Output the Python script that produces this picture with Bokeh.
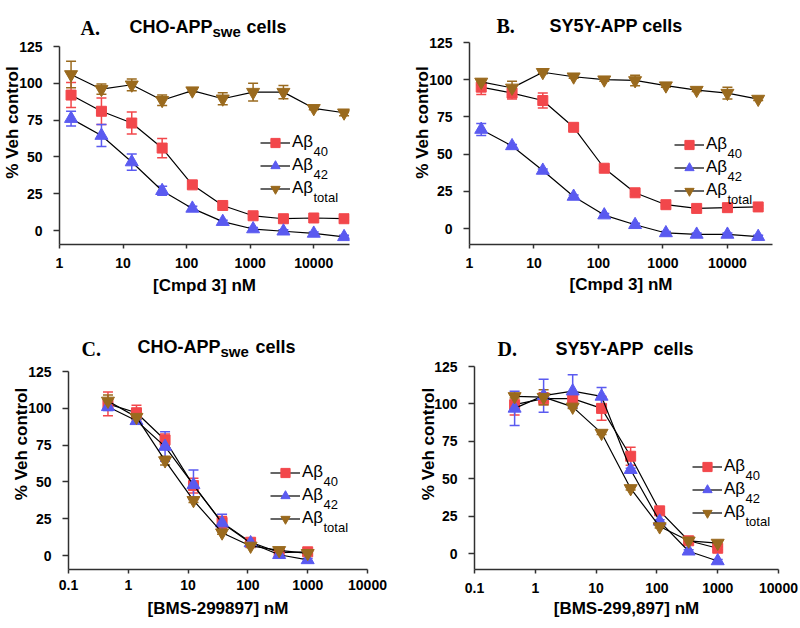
from bokeh.plotting import figure
from bokeh.layouts import column, row
from bokeh.models import (Range1d, FixedTicker, Whisker, TeeHead, ColumnDataSource,
                          Legend, LegendItem, Label)
from bokeh.embed import file_html
from bokeh.resources import INLINE

# ---------------- data ----------------
conc_cmpd3 = [1.52, 4.57, 13.7, 41.2, 123, 370, 1111, 3333, 10000, 30000]
conc_bms = [0.457, 1.37, 4.12, 12.3, 37.0, 111, 333, 1000]

# Panel A: CHO-APPswe cells, Cmpd 3
a_ab40 = [92, 81, 73, 56, 31, 17, 10, 8, 8.5, 8]
a_ab40_err = [8.5, 9, 7.5, 6.5, 2.5, 1.5, 1, 1, 1, 1]
a_ab42 = [76, 64.5, 46.5, 27, 15, 6, 1, -0.5, -2, -4.3]
a_ab42_err = [5, 7.5, 5.5, 3, 1.5, 1, 1, 1, 1, 1]
a_abtot = [106, 96, 99, 88.5, 95, 89.5, 94, 94, 83, 80]
a_abtot_err = [9, 3.5, 4, 3.5, 1, 4, 6, 4.5, 1, 2]

# Panel B: SY5Y-APP cells, Cmpd 3
b_ab40 = [95, 91, 86, 68, 40.5, 24, 16, 13.5, 14, 14.5]
b_ab40_err = [5, 4, 5, 2, 1, 1, 1, 1, 1, 1]
b_ab42 = [66.5, 55.5, 39, 21.5, 9, 2.5, -3, -4, -4, -5.5]
b_ab42_err = [4, 1, 1, 1, 1, 1, 1, 1, 1, 1]
b_abtot = [98.5, 94.5, 105, 102, 100, 99.5, 96, 93, 91, 87]
b_abtot_err = [2, 4.5, 1, 1, 1, 3.5, 1, 1, 4, 1]

# Panel C: CHO-APPswe cells, BMS-299897
c_ab40 = [103, 97, 78.5, 47.5, 22.5, 9, 2, 2.5]
c_ab40_err = [8, 5, 4, 5, 4, 1, 1, 1]
c_ab42 = [101, 91.5, 74, 48, 22, 8.5, 0.5, -3]
c_ab42_err = [2.5, 1, 10, 10, 6, 1, 1, 1]
c_abtot = [105, 94, 64.5, 37.5, 15.5, 6.5, 3.5, 1.5]
c_abtot_err = [4, 1.5, 3, 1.5, 1, 1, 1, 1]

# Panel D: SY5Y-APP cells, BMS-299,897
d_ab40 = [99.5, 103.5, 103.5, 97, 65, 28.5, 8.5, 3.5]
d_ab40_err = [7, 4, 3, 8, 6, 1, 1, 1]
d_ab42 = [97, 105.5, 108.5, 105, 56, 21.5, 1.5, -5]
d_ab42_err = [11.5, 11, 11, 6, 1, 1, 1, 1]
d_abtot = [105, 104.5, 98, 80.5, 43.5, 18, 8.5, 7]
d_abtot_err = [1, 5, 1, 1, 1, 1, 1, 1]

y_ticks = [0, 25, 50, 75, 100, 125]
y_tick_labels = ["0", "25", "50", "75", "100", "125"]
x_ticks_cmpd3 = [1, 10, 100, 1000, 10000]
x_tick_labels_cmpd3 = ["1", "10", "100", "1000", "10000"]
x_ticks_bms = [0.1, 1, 10, 100, 1000, 10000]
x_tick_labels_bms = ["0.1", "1", "10", "100", "1000", "10000"]
legend_subscripts = ["40", "42", "total"]
Y_TOP = 125

# ---------------- style ----------------
SANS = "Liberation Sans"
SERIF = "Liberation Serif"
RED = "#F2474B"
BLUE = "#5A5AF0"
BROWN = "#9A6A1E"
AXIS = "#303030"
COLORS = [RED, BLUE, BROWN]
MARKERS = ["square", "triangle", "inverted_triangle"]
SIZES = [10, 13, 13]

# page layout: canvas (x, y, w, h), frame (left, top, right, bottom),
# pix = page rows of y=0 and y=125
panels = [
    dict(canvas=(0, 0, 400, 318), frame=(58, 0, 349, 244), pix=(230, 46), xr=(1, 36500),
         x=conc_cmpd3, xt=x_ticks_cmpd3, xtl=x_tick_labels_cmpd3, xlabel="[Cmpd 3] nM",
         ys=[(a_ab40, a_ab40_err), (a_ab42, a_ab42_err), (a_abtot, a_abtot_err)],
         title=[("A.", SERIF, 20, 79, 27), ("CHO-APP", SANS, 18, 128, 26),
                ("swe", SANS, 15, 211, 31), ("cells", SANS, 18, 245, 26)],
         leg=(259, 142), ylab_s=-6, xtick_s=9, xlab_s=5),
    dict(canvas=(400, 0, 400, 318), frame=(469, 0, 772, 244), pix=(228, 42), xr=(1, 50000),
         x=conc_cmpd3, xt=x_ticks_cmpd3, xtl=x_tick_labels_cmpd3, xlabel="[Cmpd 3] nM",
         ys=[(b_ab40, b_ab40_err), (b_ab42, b_ab42_err), (b_abtot, b_abtot_err)],
         title=[("B.", SERIF, 20, 496, 25), ("SY5Y-APP cells", SANS, 18, 549, 25)],
         leg=(674, 144), ylab_s=-6, xtick_s=9, xlab_s=4),
    dict(canvas=(0, 318, 400, 310), frame=(68, 318, 367, 569), pix=(555, 371), xr=(0.1, 10000),
         x=conc_bms, xt=x_ticks_bms, xtl=x_tick_labels_bms, xlabel="[BMS-299897] nM",
         ys=[(c_ab40, c_ab40_err), (c_ab42, c_ab42_err), (c_abtot, c_abtot_err)],
         title=[("C.", SERIF, 20, 81, 348), ("CHO-APP", SANS, 18, 137, 346),
                ("swe", SANS, 15, 220, 351), ("cells", SANS, 18, 255, 346)],
         leg=(270, 472), ylab_s=-6, xtick_s=6, xlab_s=6),
    dict(canvas=(400, 318, 400, 310), frame=(474, 318, 778, 569), pix=(553, 366), xr=(0.1, 10000),
         x=conc_bms, xt=x_ticks_bms, xtl=x_tick_labels_bms, xlabel="[BMS-299,897] nM",
         ys=[(d_ab40, d_ab40_err), (d_ab42, d_ab42_err), (d_abtot, d_abtot_err)],
         title=[("D.", SERIF, 20, 497, 348), ("SY5Y-APP", SANS, 18, 555, 348),
                ("cells", SANS, 18, 653, 348)],
         leg=(692, 466), ylab_s=-7, xtick_s=9, xlab_s=3),
]

GLYPH_W = 30
GLYPH_H = 23
STANDOFF = 2
AB_WIDTH = 21


def build(cfg):
    cx, cy, cw, ch = cfg["canvas"]
    fl, ft, fr, fb = cfg["frame"]
    p0, p125 = cfg["pix"]
    ppu = (p0 - p125) / Y_TOP
    y_end = (p0 - ft) / ppu
    y_start = -(fb - p0) / ppu
    p = figure(width=cw, height=ch, x_axis_type="log",
               x_range=Range1d(*cfg["xr"]), y_range=Range1d(y_start, y_end),
               output_backend="svg", toolbar_location=None, title=None,
               min_border_left=fl - cx, min_border_right=cx + cw - fr,
               min_border_top=ft - cy, min_border_bottom=cy + ch - fb)
    p.grid.visible = False
    p.outline_line_color = None
    p.background_fill_color = "white"
    p.border_fill_color = "white"

    def scr(X, Y):
        return X - fl, fb - Y

    for ax in (p.xaxis[0], p.yaxis[0]):
        ax.axis_line_color = AXIS
        ax.axis_line_width = 1.5
        ax.major_tick_line_color = AXIS
        ax.major_tick_line_width = 1.5
        ax.major_tick_in = 0
        ax.minor_tick_line_color = None
        ax.major_label_text_font = SANS
        ax.major_label_text_font_style = "bold"
        ax.major_label_text_font_size = "14px"
        ax.major_label_text_color = "black"
        ax.axis_label_text_font = SANS
        ax.axis_label_text_font_style = "bold"
        ax.axis_label_text_font_size = "17px"
        ax.axis_label_text_color = "black"
    xa = p.xaxis[0]
    xa.ticker = FixedTicker(ticks=cfg["xt"])
    xa.major_label_overrides = {t: l for t, l in zip(cfg["xt"], cfg["xtl"])}
    xa.major_tick_out = 4
    xa.major_label_standoff = cfg["xtick_s"]
    xa.axis_label = cfg["xlabel"]
    xa.axis_label_standoff = cfg["xlab_s"]
    ya = p.yaxis[0]
    ya.ticker = FixedTicker(ticks=y_ticks)
    ya.major_label_overrides = {t: l for t, l in zip(y_ticks, y_tick_labels)}
    ya.bounds = (y_start, Y_TOP)
    ya.major_tick_out = 6
    ya.major_label_standoff = 11
    ya.axis_label = "% Veh control"
    ya.axis_label_standoff = cfg["ylab_s"]

    items = []
    for (yv, ev), color, marker, size in zip(cfg["ys"], COLORS, MARKERS, SIZES):
        src = ColumnDataSource(dict(x=cfg["x"], y=yv,
                                    lo=[a - b for a, b in zip(yv, ev)],
                                    hi=[a + b for a, b in zip(yv, ev)]))
        p.add_layout(Whisker(source=src, base="x", lower="lo", upper="hi",
                             line_color=color, line_width=1.5,
                             upper_head=TeeHead(size=10, line_color=color, line_width=1.5),
                             lower_head=TeeHead(size=10, line_color=color, line_width=1.5)))
        lr = p.line("x", "y", source=src, line_color="black", line_width=1.2)
        sr = p.scatter("x", "y", source=src, marker=marker, size=size,
                       fill_color=color, line_color=color)
        items.append(LegendItem(label="A\u03b2", renderers=[lr, sr]))

    gl, c1 = cfg["leg"]
    leg_bottom = c1 + 2 * GLYPH_H + GLYPH_H / 2
    vx, vy = scr(gl, leg_bottom)
    legend = Legend(items=items, location=(vx, vy), glyph_width=GLYPH_W, glyph_height=GLYPH_H,
                    label_height=GLYPH_H, spacing=0, padding=0, margin=0,
                    label_standoff=STANDOFF, label_text_font=SANS, label_text_font_size="17px",
                    label_text_color="black", border_line_color=None, background_fill_alpha=0)
    p.add_layout(legend)
    for i, sub in enumerate(legend_subscripts):
        sx, sy = scr(gl + GLYPH_W + STANDOFF + AB_WIDTH, c1 + i * GLYPH_H + 9)
        p.add_layout(Label(x=sx, y=sy, x_units="screen", y_units="screen", text=sub,
                           text_font=SANS, text_font_size="13px", text_color="black",
                           text_baseline="alphabetic", text_align="left"))

    # panel titles (inside the frame area above the axis bounds)
    for txt, font, fs, X, Y in cfg["title"]:
        sx, sy = scr(X, Y)
        p.add_layout(Label(x=sx, y=sy, x_units="screen", y_units="screen", text=txt,
                           text_font=font, text_font_size=f"{fs}px", text_font_style="bold",
                           text_color="black", text_baseline="alphabetic", text_align="left"))
    return p


figs = [build(c) for c in panels]
layout = column(row(figs[0], figs[1]), row(figs[2], figs[3]))

with open("out.html", "w") as f:
    f.write(file_html(layout, INLINE))
